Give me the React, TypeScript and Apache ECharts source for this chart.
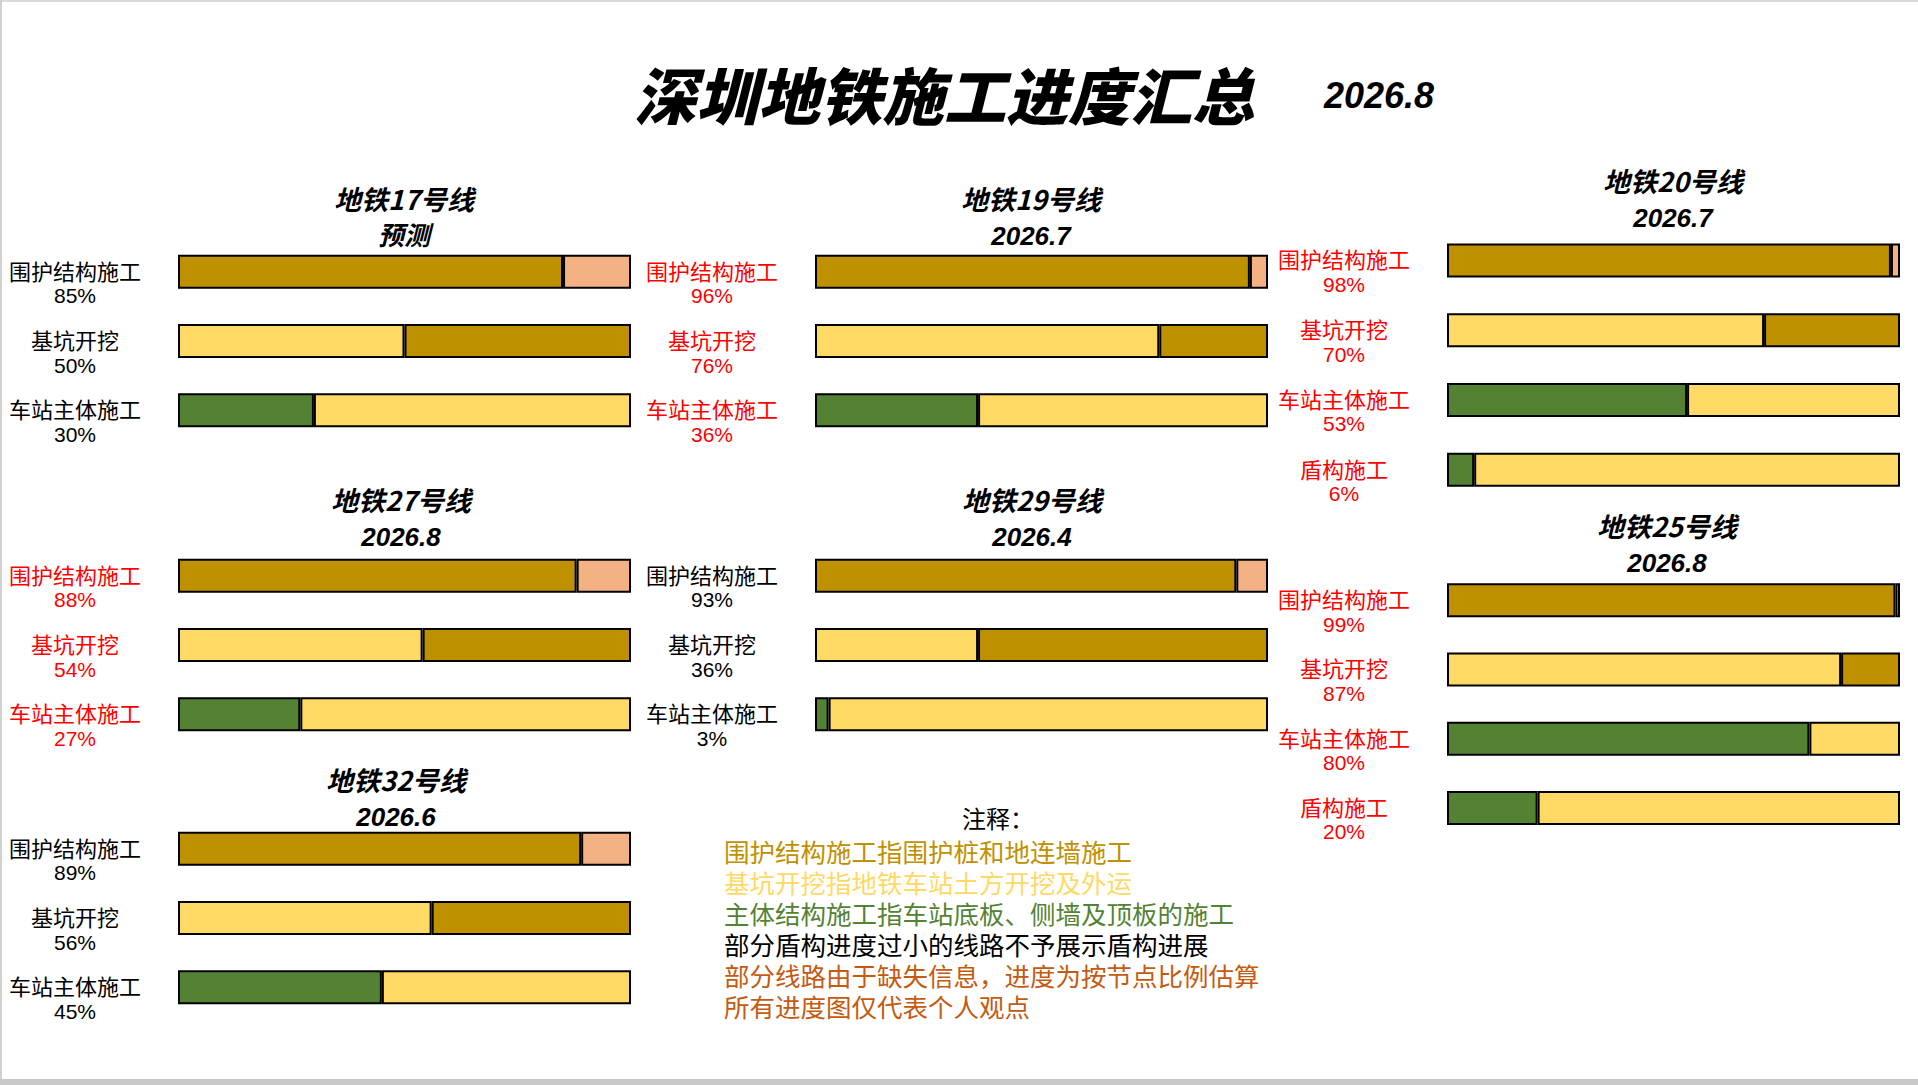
import { useEffect, useRef } from "react";
import * as echarts from "echarts";

// stage names, one row per bar
const STAGES = ["围护结构施工", "基坑开挖", "车站主体施工"];
const STAGES_SHIELD = ["围护结构施工", "基坑开挖", "车站主体施工", "盾构施工"];

const LINE_NAMES = ["地铁17号线", "地铁19号线", "地铁20号线", "地铁27号线", "地铁29号线", "地铁25号线", "地铁32号线"];
const LINE_DATES = ["预测", "2026.7", "2026.7", "2026.8", "2026.4", "2026.8", "2026.6"];

// progress in percent, same order as the stage lists
const line17 = [85, 50, 30];
const line19 = [96, 76, 36];
const line20 = [98, 70, 53, 6];
const line27 = [88, 54, 27];
const line29 = [93, 36, 3];
const line25 = [99, 87, 80, 20];
const line32 = [89, 56, 45];

const NOTE_TITLE = "注释：";
const NOTES = [
  "围护结构施工指围护桩和地连墙施工",
  "基坑开挖指地铁车站土方开挖及外运",
  "主体结构施工指车站底板、侧墙及顶板的施工",
  "部分盾构进度过小的线路不予展示盾构进展",
  "部分线路由于缺失信息，进度为按节点比例估算",
  "所有进度图仅代表个人观点",
];

const GOLD = "#BF9000";
const SALMON = "#F4B183";
const YELLOW = "#FFD966";
const GREEN = "#548235";
const RED = "#FF0000";

const DONE_COLORS = [GOLD, YELLOW, GREEN, GREEN];
const REST_COLORS = [SALMON, GOLD, YELLOW, YELLOW];
const NOTE_COLORS = [GOLD, YELLOW, GREEN, "#000000", "#C55A11", "#C55A11"];

const CJK = "'Noto Sans CJK SC', sans-serif";
const LATIN = "'Liberation Sans', 'Noto Sans CJK SC', sans-serif";
const NARROW = "'Liberation Sans Narrow', 'Liberation Sans', 'Noto Sans CJK SC', sans-serif";

// layout of each small panel (same order as LINE_NAMES)
const PANELS = [
  { values: line17, stages: STAGES, left: 178, top: 237, height: 208, tx: 404, ty: 180, labelColor: "#000" },
  { values: line19, stages: STAGES, left: 815, top: 237, height: 208, tx: 1031, ty: 180, labelColor: RED },
  { values: line20, stages: STAGES_SHIELD, left: 1447, top: 225.5, height: 279, tx: 1673, ty: 162, labelColor: RED },
  { values: line27, stages: STAGES, left: 178, top: 541, height: 208, tx: 401, ty: 481, labelColor: RED },
  { values: line29, stages: STAGES, left: 815, top: 541, height: 208, tx: 1032, ty: 481, labelColor: "#000" },
  { values: line25, stages: STAGES_SHIELD, left: 1447, top: 565.5, height: 277, tx: 1667, ty: 507, labelColor: RED },
  { values: line32, stages: STAGES, left: 178, top: 814, height: 208, tx: 396, ty: 761, labelColor: "#000" },
];

const BAR_W = 453;

export default function App() {
  const ref = useRef<HTMLDivElement>(null);

  useEffect(() => {
    document.body.style.margin = "0";
    document.body.style.overflow = "hidden";
    if (!ref.current) return;
    const chart = echarts.init(ref.current, undefined, { renderer: "svg" });

    const grids = PANELS.map((p) => ({
      left: p.left,
      top: p.top,
      width: BAR_W,
      height: p.height,
      containLabel: false,
      outerBoundsMode: "none",
    }));

    const xAxes = PANELS.map((_, i) => ({
      type: "value",
      gridIndex: i,
      min: 0,
      max: 100,
      show: false,
    }));

    const yAxes = PANELS.map((p, i) => ({
      type: "category",
      gridIndex: i,
      inverse: true,
      data: p.stages,
      axisLine: { show: false },
      axisTick: { show: false },
      splitLine: { show: false },
      axisLabel: {
        align: "center",
        margin: 103,
        padding: [22, 0, 0, 0],
        color: p.labelColor,
        formatter: (v: string, idx: number) => `{n|${v}}\n{p|${p.values[idx]}%}`,
        rich: {
          n: { fontSize: 22, lineHeight: 26, fontFamily: CJK, color: p.labelColor },
          p: { fontSize: 21, lineHeight: 26, fontFamily: NARROW, color: p.labelColor },
        },
      },
    }));

    const series: any[] = [];
    PANELS.forEach((p, i) => {
      const border = { borderColor: "#000", borderWidth: 2 };
      series.push({
        type: "bar",
        name: LINE_NAMES[i] + "-done",
        xAxisIndex: i,
        yAxisIndex: i,
        stack: "s" + i,
        barWidth: 34,
        data: p.values.map((v, k) => ({ value: v, itemStyle: { color: DONE_COLORS[k], ...border } })),
      });
      series.push({
        type: "bar",
        name: LINE_NAMES[i] + "-rest",
        xAxisIndex: i,
        yAxisIndex: i,
        stack: "s" + i,
        barWidth: 34,
        data: p.values.map((v, k) => ({ value: 100 - v, itemStyle: { color: REST_COLORS[k], ...border } })),
      });
    });

    const titles: any[] = [
      {
        text: "深圳地铁施工进度汇总",
        left: 944,
        top: 57,
        textAlign: "center",
        padding: 0,
        textStyle: { fontSize: 62, lineHeight: 72, fontWeight: 900, fontStyle: "italic", fontFamily: CJK, color: "#000" },
      },
      {
        text: "2026.8",
        left: 1379,
        top: 73,
        textAlign: "center",
        padding: 0,
        textStyle: { fontSize: 36, lineHeight: 44, fontWeight: "bold", fontStyle: "italic", fontFamily: LATIN, color: "#000" },
      },
      ...PANELS.map((p, i) => ({
        text: LINE_NAMES[i],
        subtext: LINE_DATES[i],
        left: p.tx,
        top: p.ty,
        textAlign: "center",
        padding: 0,
        itemGap: 0,
        textStyle: { fontSize: 27, lineHeight: 37, fontWeight: "bold", fontStyle: "italic", fontFamily: CJK, color: "#000" },
        subtextStyle: { fontSize: 26, lineHeight: 37, fontWeight: "bold", fontStyle: "italic", fontFamily: LATIN, color: "#000" },
      })),
    ];

    const graphic: any[] = [
      // slide frame edges
      { type: "rect", silent: true, z: -10, shape: { x: 0, y: 0, width: 1918, height: 2 }, style: { fill: "#d9d9d9" } },
      { type: "rect", silent: true, z: -10, shape: { x: 0, y: 0, width: 2, height: 1085 }, style: { fill: "#d0d0d0" } },
      { type: "rect", silent: true, z: -10, shape: { x: 0, y: 1079, width: 1918, height: 6 }, style: { fill: "#c8c8c8" } },
      {
        type: "text",
        x: 998,
        y: 817,
        style: { text: NOTE_TITLE, fontSize: 24, lineHeight: 26, fontFamily: CJK, fill: "#000", align: "center", verticalAlign: "middle" },
      },
      ...NOTES.map((t, i) => ({
        type: "text",
        x: 724,
        y: 850 + i * 31,
        style: { text: t, fontSize: 25.5, lineHeight: 30, fontFamily: CJK, fill: NOTE_COLORS[i], align: "left", verticalAlign: "middle" },
      })),
    ];

    chart.setOption({
      animation: false,
      backgroundColor: "#ffffff",
      title: titles,
      grid: grids,
      xAxis: xAxes,
      yAxis: yAxes,
      series,
      graphic,
    });

    const onResize = () => chart.resize();
    window.addEventListener("resize", onResize);
    return () => {
      window.removeEventListener("resize", onResize);
      chart.dispose();
    };
  }, []);

  return <div ref={ref} style={{ width: 1918, height: 1085 }} />;
}
